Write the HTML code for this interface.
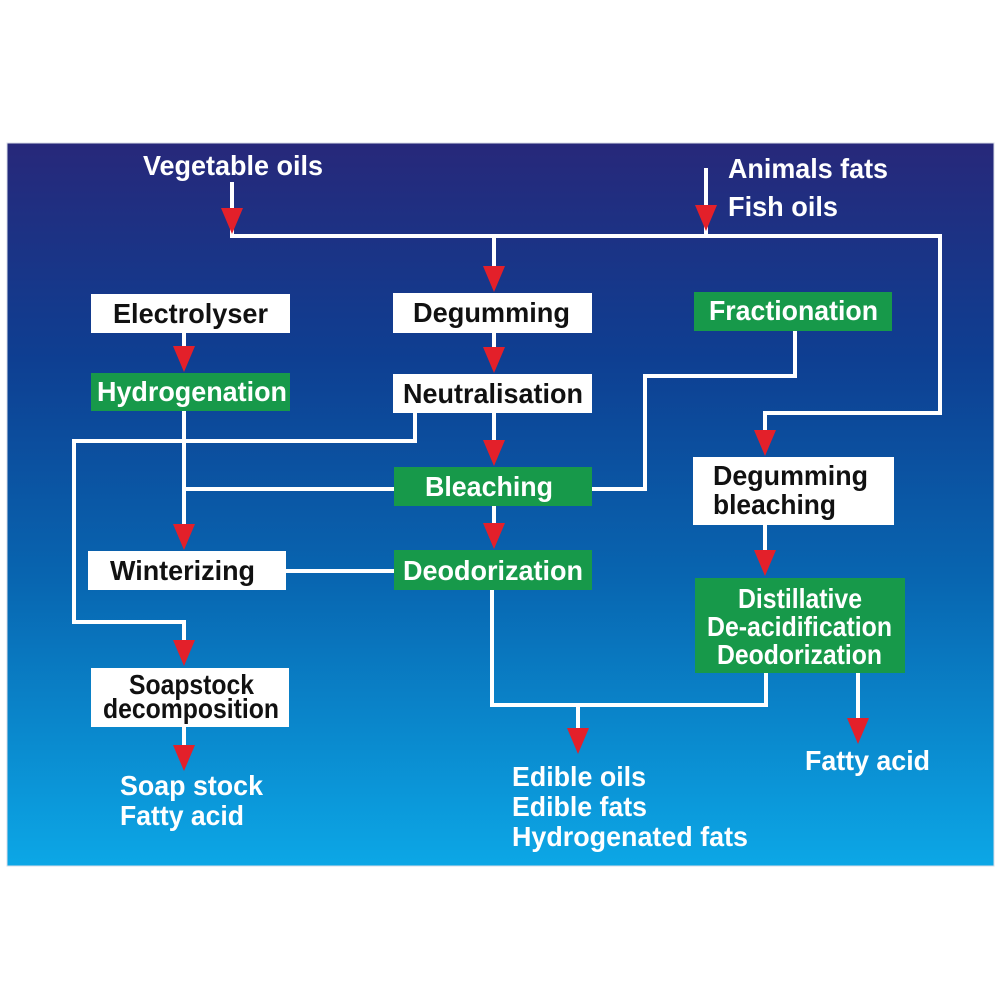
<!DOCTYPE html>
<html><head><meta charset="utf-8"><style>
html,body{margin:0;padding:0;background:#fff;width:1000px;height:1000px;overflow:hidden}
text{font-family:"Liberation Sans",Arial,sans-serif;font-weight:bold;font-size:27.5px}
</style></head><body>
<svg width="1000" height="1000" viewBox="0 0 1000 1000" xmlns="http://www.w3.org/2000/svg">
<defs>
<linearGradient id="bg" x1="0" y1="0" x2="0" y2="1">
<stop offset="0" stop-color="#27287a"/>
<stop offset="0.3" stop-color="#0e3f92"/>
<stop offset="0.6" stop-color="#0865b0"/>
<stop offset="1" stop-color="#0ca7e6"/>
</linearGradient>
</defs>
<rect x="7" y="143" width="987" height="723" fill="url(#bg)" stroke="#d8dde8" stroke-width="1"/>
<g stroke="#fff" stroke-width="4" fill="none">
<path d="M232 182V236H940V413H765V440"/>
<path d="M706 168V236"/>
<path d="M494 236V280"/>
<path d="M184 333V360"/>
<path d="M494 333V360"/>
<path d="M184 411V540M184 489H394"/>
<path d="M415 413V441H74V622H184V655"/>
<path d="M494 413V455"/>
<path d="M494 506V538"/>
<path d="M795 331V376H645V489H592"/>
<path d="M286 571H394"/>
<path d="M765 525V565"/>
<path d="M492 590V705H766V673"/>
<path d="M578 705V735"/>
<path d="M858 673V735"/>
<path d="M184 727V760"/>
</g>
<g fill="#e3202a">
<path d="M221 208H243L232 234Z"/>
<path d="M695 205H717L706 231Z"/>
<path d="M483 266H505L494 292Z"/>
<path d="M173 346H195L184 372Z"/>
<path d="M483 347H505L494 373Z"/>
<path d="M483 440H505L494 466Z"/>
<path d="M483 523H505L494 549Z"/>
<path d="M173 524H195L184 550Z"/>
<path d="M173 640H195L184 666Z"/>
<path d="M754 430H776L765 456Z"/>
<path d="M754 550H776L765 576Z"/>
<path d="M567 728H589L578 754Z"/>
<path d="M847 718H869L858 744Z"/>
<path d="M173 745H195L184 771Z"/>
</g>
<g fill="#fff">
<rect x="91" y="294" width="199" height="39"/>
<rect x="393" y="293" width="199" height="40"/>
<rect x="393" y="374" width="199" height="39"/>
<rect x="693" y="457" width="201" height="68"/>
<rect x="88" y="551" width="198" height="39"/>
<rect x="91" y="668" width="198" height="59"/>
</g>
<g fill="#17994a">
<rect x="694" y="292" width="198" height="39"/>
<rect x="91" y="373" width="199" height="38"/>
<rect x="394" y="467" width="198" height="39"/>
<rect x="394" y="550" width="198" height="40"/>
<rect x="695" y="578" width="210" height="95"/>
</g>
<g fill="#111">
<text x="113" y="323" textLength="155" lengthAdjust="spacingAndGlyphs">Electrolyser</text>
<text x="413" y="322" textLength="157" lengthAdjust="spacingAndGlyphs">Degumming</text>
<text x="403" y="403" textLength="180" lengthAdjust="spacingAndGlyphs">Neutralisation</text>
<text x="110" y="580" textLength="145" lengthAdjust="spacingAndGlyphs">Winterizing</text>
<text x="713" y="485" textLength="155" lengthAdjust="spacingAndGlyphs">Degumming</text>
<text x="713" y="514" textLength="123" lengthAdjust="spacingAndGlyphs">bleaching</text>
<text x="129" y="694" font-size="25" textLength="125" lengthAdjust="spacingAndGlyphs">Soapstock</text>
<text x="103" y="718" font-size="25" textLength="176" lengthAdjust="spacingAndGlyphs">decomposition</text>
</g>
<g fill="#fff">
<text x="143" y="175" textLength="180" lengthAdjust="spacingAndGlyphs">Vegetable oils</text>
<text x="728" y="178" textLength="160" lengthAdjust="spacingAndGlyphs">Animals fats</text>
<text x="728" y="216" textLength="110" lengthAdjust="spacingAndGlyphs">Fish oils</text>
<text x="709" y="320" textLength="169" lengthAdjust="spacingAndGlyphs">Fractionation</text>
<text x="97" y="401" textLength="190" lengthAdjust="spacingAndGlyphs">Hydrogenation</text>
<text x="425" y="496" textLength="128" lengthAdjust="spacingAndGlyphs">Bleaching</text>
<text x="403" y="580" textLength="180" lengthAdjust="spacingAndGlyphs">Deodorization</text>
<text x="738" y="608" font-size="26" textLength="124" lengthAdjust="spacingAndGlyphs">Distillative</text>
<text x="707" y="636" font-size="26" textLength="185" lengthAdjust="spacingAndGlyphs">De-acidification</text>
<text x="717" y="664" font-size="26" textLength="165" lengthAdjust="spacingAndGlyphs">Deodorization</text>
<text x="805" y="770" textLength="125" lengthAdjust="spacingAndGlyphs">Fatty acid</text>
<text x="120" y="795" textLength="143" lengthAdjust="spacingAndGlyphs">Soap stock</text>
<text x="120" y="825" textLength="124" lengthAdjust="spacingAndGlyphs">Fatty acid</text>
<text x="512" y="786" textLength="134" lengthAdjust="spacingAndGlyphs">Edible oils</text>
<text x="512" y="816" textLength="135" lengthAdjust="spacingAndGlyphs">Edible fats</text>
<text x="512" y="846" textLength="236" lengthAdjust="spacingAndGlyphs">Hydrogenated fats</text>
</g>
</svg>
</body></html>
